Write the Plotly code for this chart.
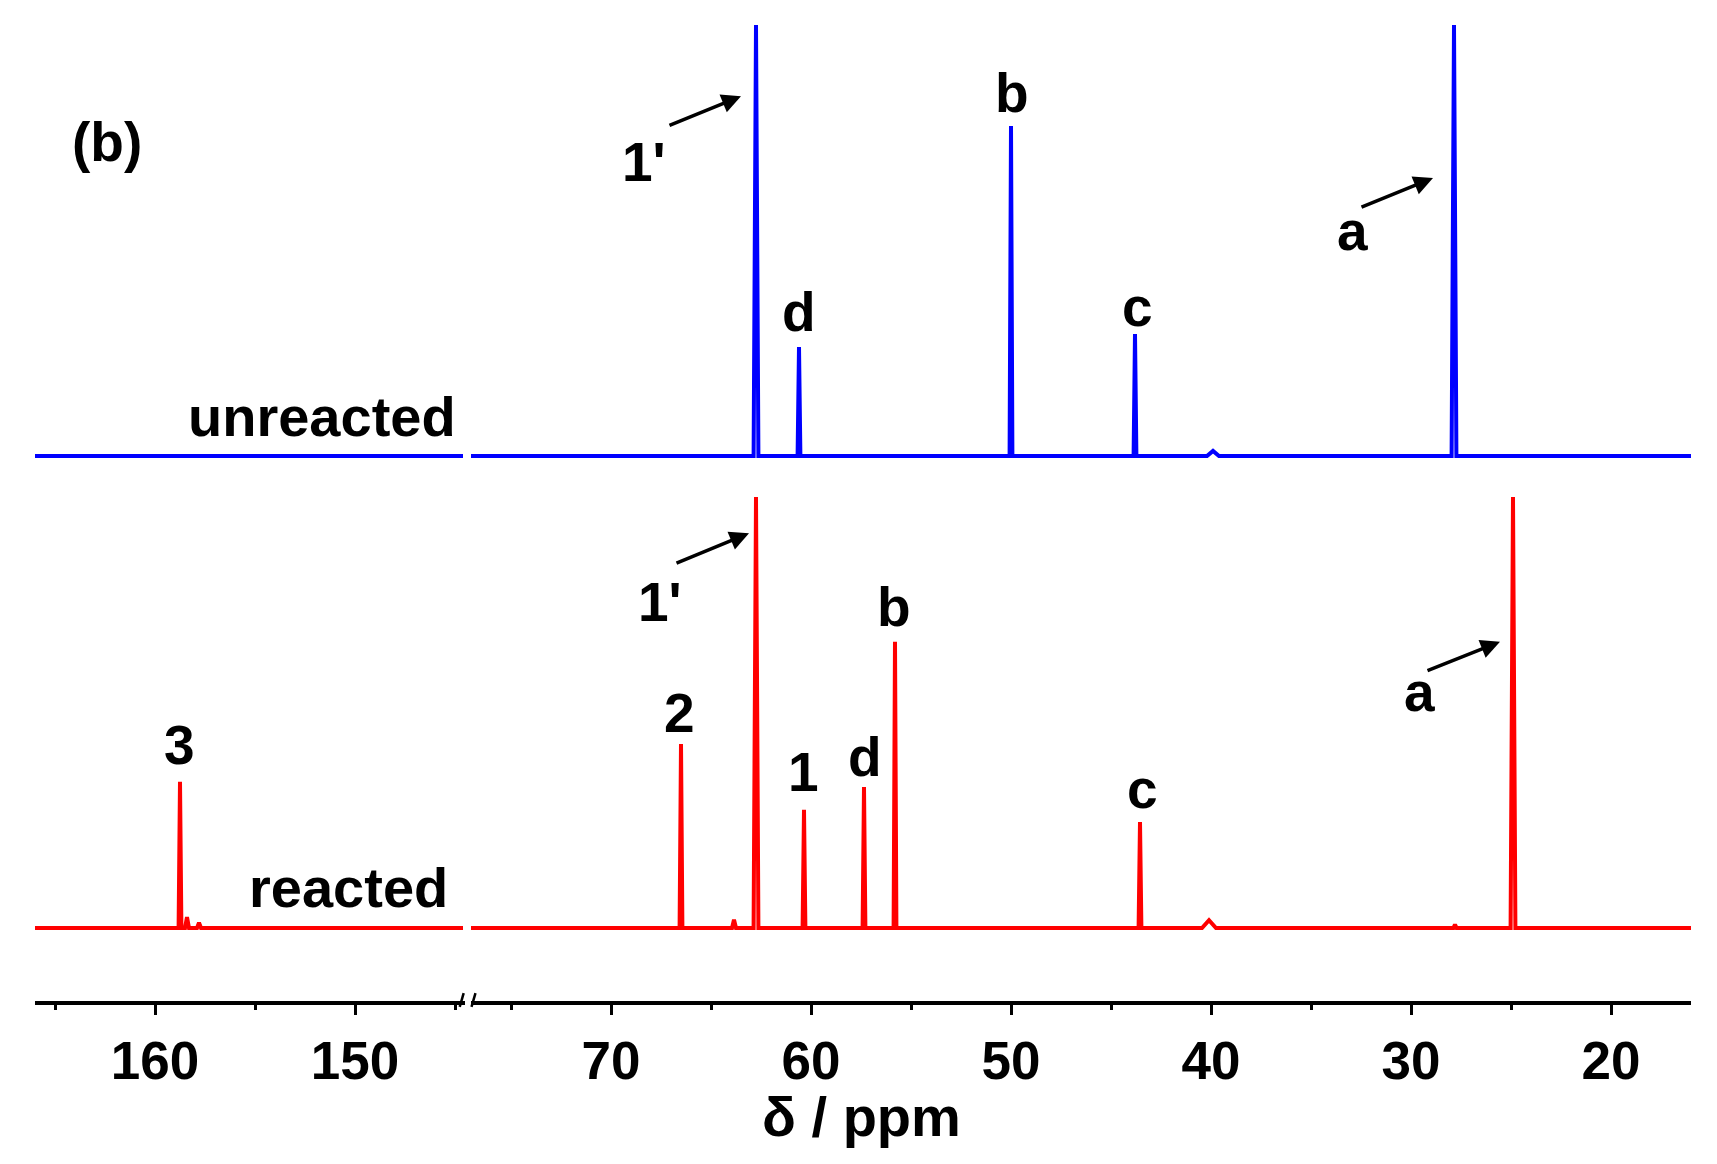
import plotly.graph_objects as go

# ---------------- data ----------------
# x ranges of the broken axis (ppm, decreasing)
left_range = [166.0, 144.5]
right_range = [77.0, 16.0]

# unreacted (blue) spectrum: peak positions (ppm), heights (normalised), half-widths (ppm)
blue_pos = [62.75, 60.6, 50.0, 43.8, 39.9, 27.85]
blue_h = [1.0, 0.253, 0.766, 0.283, 0.012, 1.0]
blue_w = [0.12, 0.07, 0.07, 0.07, 0.3, 0.12]

# reacted (red) spectrum
red_pos = [158.75, 158.4, 157.8, 66.5, 63.85, 62.75, 60.35, 57.35, 55.8, 43.55, 40.1, 27.8, 24.9]
red_h = [0.339, 0.025, 0.012, 0.427, 0.019, 1.0, 0.274, 0.327, 0.664, 0.246, 0.018, 0.008, 1.0]
red_w = [0.07, 0.1, 0.1, 0.07, 0.1, 0.12, 0.07, 0.07, 0.07, 0.07, 0.35, 0.08, 0.12]

blue_offset = 1.095

# tick labels
left_ticks = [160, 150]
right_ticks = [70, 60, 50, 40, 30, 20]

# peak labels: (text, ppm, y)
blue_labels = [("1'", 68.35, 1.777), ("d", 60.6, 1.429), ("b", 49.95, 1.937),
               ("c", 43.7, 1.440), ("a", 32.95, 1.617)]
red_labels_right = [("2", 66.6, 0.499), ("1'", 67.55, 0.756), ("1", 60.4, 0.362),
                    ("d", 57.3, 0.397), ("b", 55.85, 0.745), ("c", 43.45, 0.322),
                    ("a", 29.6, 0.548)]
red_labels_left = [("3", 158.8, 0.425)]

# arrows: (tail ppm, tail y, head ppm, head y)
arrows = [(67.15, 1.861, 63.5, 1.930), (32.55, 1.671, 28.9, 1.740),
          (66.8, 0.845, 63.1, 0.916), (29.25, 0.596, 25.55, 0.664)]


def build(pos, h, w, xr, offset):
    hi, lo = xr
    pts = [(hi, 0.0)]
    items = sorted([p for p in zip(pos, h, w) if lo <= p[0] <= hi], key=lambda t: -t[0])
    for p, hh, ww in items:
        pts += [(p + ww, 0.0), (p, hh), (p - ww, 0.0)]
    pts.append((lo, 0.0))
    xs = [a for a, _ in pts]
    ys = [b + offset for _, b in pts]
    return xs, ys


FONT = "Liberation Sans, Arial, sans-serif"
BLUE = "#0000FF"
RED = "#FF0000"
LW = 4

fig = go.Figure()
for xa, xr in (("x", [166.0, 144.6]), ("x2", [77.0, 16.0])):
    bx, by = build(blue_pos, blue_h, blue_w, xr, blue_offset)
    rx, ry = build(red_pos, red_h, red_w, xr, 0.0)
    fig.add_trace(go.Scatter(x=bx, y=by, mode="lines", xaxis=xa, yaxis="y",
                             line=dict(color=BLUE, width=LW), showlegend=False,
                             hoverinfo="skip"))
    fig.add_trace(go.Scatter(x=rx, y=ry, mode="lines", xaxis=xa, yaxis="y",
                             line=dict(color=RED, width=LW), showlegend=False,
                             hoverinfo="skip"))

ann = []
fs = 55
for t, x, y in blue_labels + red_labels_right:
    ann.append(dict(text=t, x=x, y=y, xref="x2", yref="y", showarrow=False,
                    font=dict(family=FONT, size=fs, color="black", weight="bold"),
                    xanchor="center", yanchor="middle"))
for t, x, y in red_labels_left:
    ann.append(dict(text=t, x=x, y=y, xref="x", yref="y", showarrow=False,
                    font=dict(family=FONT, size=fs, color="black", weight="bold"),
                    xanchor="center", yanchor="middle"))
for tx, ty, hx, hy in arrows:
    ann.append(dict(text="", x=hx, y=hy, ax=tx, ay=ty, xref="x2", yref="y",
                    axref="x2", ayref="y", showarrow=True, arrowhead=2,
                    arrowsize=1.1, arrowwidth=3.5, arrowcolor="black"))
# sample labels
ann.append(dict(text="unreacted", x=144.85, y=1.186, xref="x", yref="y", showarrow=False,
                font=dict(family=FONT, size=56, color="black", weight="bold"),
                xanchor="right", yanchor="middle"))
ann.append(dict(text="reacted", x=145.25, y=0.095, xref="x", yref="y", showarrow=False,
                font=dict(family=FONT, size=56, color="black", weight="bold"),
                xanchor="right", yanchor="middle"))
ann.append(dict(text="(b)", x=162.4, y=1.824, xref="x", yref="y", showarrow=False,
                font=dict(family=FONT, size=fs, color="black", weight="bold"),
                xanchor="center", yanchor="middle"))
# axis title
ann.append(dict(text="δ / ppm", x=0.4988, y=-0.118, xref="paper", yref="paper",
                showarrow=False, font=dict(family=FONT, size=56, color="black", weight="bold"),
                xanchor="center", yanchor="middle"))

L, R, T, B = 35, 26, 20, 163
W, H = 1717, 1164
pw = W - L - R
d_left = 430 / pw
d_right = 436 / pw

axis_common = dict(showline=True, linecolor="black", linewidth=4, ticks="outside",
                   ticklen=10, tickwidth=3, tickcolor="black", showgrid=False,
                   zeroline=False, mirror=False,
                   tickfont=dict(family=FONT, size=53, color="black", weight="bold"),
                   ticklabelstandoff=0, fixedrange=True)

# small break marks on the axis
shapes = []
for xp in (d_left - 0.002, d_right + 0.0015):
    shapes.append(dict(type="line", xref="paper", yref="paper",
                       x0=xp - 0.0012, x1=xp + 0.0012, y0=-0.006, y1=0.008,
                       line=dict(color="black", width=2.5)))

fig.update_layout(
    width=W, height=H,
    margin=dict(l=L, r=R, t=T, b=B),
    paper_bgcolor="white", plot_bgcolor="white",
    xaxis=dict(domain=[0, d_left], range=left_range, tickvals=left_ticks,
               minor=dict(tickvals=[165, 155, 145], ticks="outside", ticklen=5,
                          tickwidth=3, tickcolor="black"),
               anchor="y", **axis_common),
    xaxis2=dict(domain=[d_right, 1], range=right_range, tickvals=right_ticks,
                minor=dict(tickvals=[75, 65, 55, 45, 35, 25], ticks="outside", ticklen=5,
                           tickwidth=3, tickcolor="black"),
                anchor="y", **axis_common),
    yaxis=dict(visible=False, range=[-0.1694, 2.1067], fixedrange=True),
    annotations=ann,
    shapes=shapes,
)

fig.write_html("out.html", config={"displayModeBar": False},
               post_script="document.body.style.margin='0';")
